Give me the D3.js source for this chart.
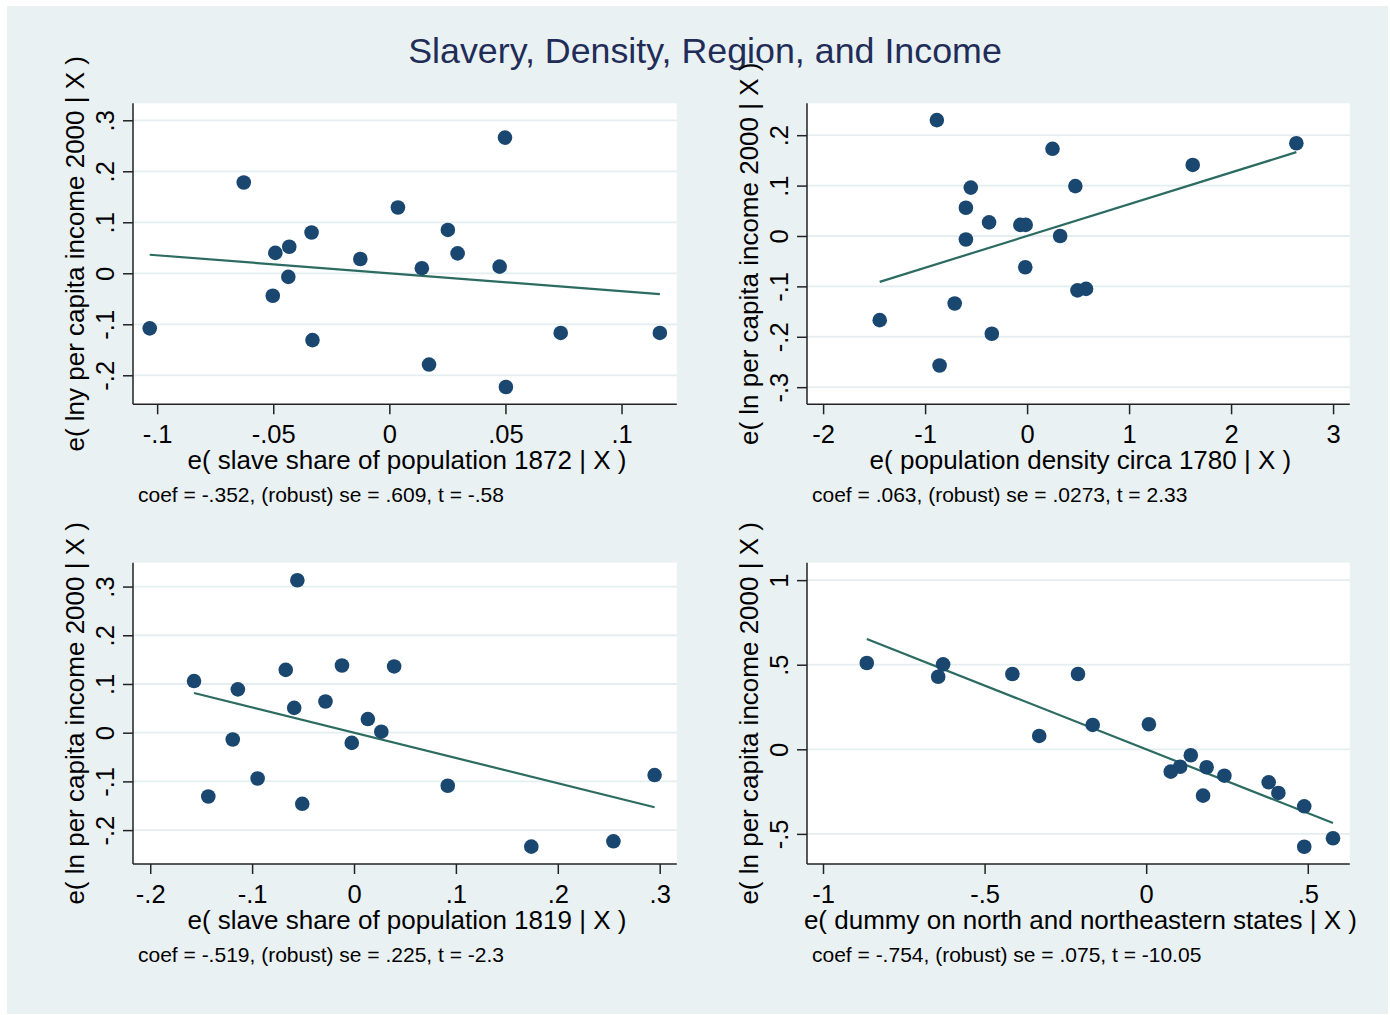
<!DOCTYPE html>
<html>
<head>
<meta charset="utf-8">
<script src="https://cdn.jsdelivr.net/npm/d3@7"></script>
<style>
  html, body { margin: 0; padding: 0; background: #ffffff; }
  svg { display: block; }
  text { font-family: "Liberation Sans", Arial, Helvetica, sans-serif; }
</style>
</head>
<body>
<svg id="chart" width="1390" height="1015"></svg>
<script>
// ---------- data ----------
const chartTitle = "Slavery, Density, Region, and Income";

// Panel 1: slave share 1872
const p1X = [-0.1032, -0.0627, -0.0491, -0.0431, -0.0435, -0.0502, -0.0335, -0.0331, -0.0125, 0.0037,
             0.0140, 0.0252, 0.0294, 0.0171, 0.0475, 0.0498, 0.0502, 0.0738, 0.1165];
const p1Y = [-0.108, 0.178, 0.040, 0.052, -0.007, -0.044, 0.080, -0.131, 0.028, 0.129,
             0.010, 0.085, 0.039, -0.179, 0.013, 0.266, -0.223, -0.117, -0.117];
const p1XTicks = [-0.1, -0.05, 0, 0.05, 0.1];
const p1XTickLabels = ["-.1", "-.05", "0", ".05", ".1"];
const p1YTicks = [-0.2, -0.1, 0, 0.1, 0.2, 0.3];
const p1YTickLabels = ["-.2", "-.1", "0", ".1", ".2", ".3"];
const p1XTitle = "e( slave share of population 1872 | X )";
const p1YTitle = "e( lny per capita income 2000 | X )";
const p1Note = "coef = -.352, (robust) se = .609, t = -.58";
const p1Coef = -0.352, p1Intercept = 0;
const p1XDomain = [-0.1104, 0.1238], p1YDomain = [-0.2569, 0.3333];

// Panel 2: population density 1780
const p2X = [-0.885, 0.249, 1.624, 2.640, -0.552, -0.600, 0.473, -0.373, -0.066, -0.014,
             -0.600, 0.324, -0.018, 0.494, 0.578, -0.710, -1.445, -0.346, -0.858];
const p2Y = [0.230, 0.173, 0.141, 0.184, 0.096, 0.056, 0.099, 0.027, 0.022, 0.022,
             -0.007, 0.000, -0.062, -0.108, -0.105, -0.134, -0.167, -0.194, -0.257];
const p2XTicks = [-2, -1, 0, 1, 2, 3];
const p2XTickLabels = ["-2", "-1", "0", "1", "2", "3"];
const p2YTicks = [-0.3, -0.2, -0.1, 0, 0.1, 0.2];
const p2YTickLabels = ["-.3", "-.2", "-.1", "0", ".1", ".2"];
const p2XTitle = "e( population density circa 1780 | X )";
const p2YTitle = "e( ln per capita income 2000 | X )";
const p2Note = "coef = .063, (robust) se = .0273, t = 2.33";
const p2Coef = 0.063, p2Intercept = 0;
const p2XDomain = [-2.158, 3.164], p2YDomain = [-0.334, 0.2633];

// Panel 3: slave share 1819
const p3X = [-0.157, -0.0556, -0.067, -0.0118, 0.0394, -0.114, -0.028, -0.0587, 0.0136, 0.0268,
             -0.0022, -0.119, -0.0946, -0.143, -0.0508, 0.092, 0.174, 0.2546, 0.295];
const p3Y = [0.106, 0.313, 0.129, 0.138, 0.136, 0.089, 0.064, 0.051, 0.028, 0.002,
             -0.021, -0.014, -0.094, -0.131, -0.146, -0.109, -0.234, -0.223, -0.087];
const p3XTicks = [-0.2, -0.1, 0, 0.1, 0.2, 0.3];
const p3XTickLabels = ["-.2", "-.1", "0", ".1", ".2", ".3"];
const p3YTicks = [-0.2, -0.1, 0, 0.1, 0.2, 0.3];
const p3YTickLabels = ["-.2", "-.1", "0", ".1", ".2", ".3"];
const p3XTitle = "e( slave share of population 1819 | X )";
const p3YTitle = "e( ln per capita income 2000 | X )";
const p3Note = "coef = -.519, (robust) se = .225, t = -2.3";
const p3Coef = -0.519, p3Intercept = 0;
const p3XDomain = [-0.2169, 0.3168], p3YDomain = [-0.2696, 0.349];

// Panel 4: north / northeast dummy
const p4X = [-0.8645, -0.6436, -0.6284, -0.414, -0.211, -0.331, -0.1655, 0.0084, 0.138, 0.076,
             0.105, 0.187, 0.176, 0.242, 0.379, 0.409, 0.489, 0.489, 0.578];
const p4Y = [0.510, 0.429, 0.502, 0.445, 0.445, 0.079, 0.144, 0.148, -0.035, -0.132,
             -0.103, -0.106, -0.274, -0.156, -0.195, -0.258, -0.337, -0.576, -0.526];
const p4XTicks = [-1, -0.5, 0, 0.5];
const p4XTickLabels = ["-1", "-.5", "0", ".5"];
const p4YTicks = [-0.5, 0, 0.5, 1];
const p4YTickLabels = ["-.5", "0", ".5", "1"];
const p4XTitle = "e( dummy on north and northeastern states | X )";
const p4YTitle = "e( ln per capita income 2000 | X )";
const p4Note = "coef = -.754, (robust) se = .075, t = -10.05";
const p4Coef = -0.754, p4Intercept = 0;
const p4XDomain = [-1.0495, 0.630], p4YDomain = [-0.678, 1.103];

// ---------- styles / layout ----------
const BG = "#eaf1f3";
const GRID = "#e4edf0";
const MARKER = "#1a476f";
const FIT = "#2c6b61";
const TITLE_COLOR = "#1f2d58";

const panels = [
  {x: p1X, y: p1Y, xt: p1XTicks, xtl: p1XTickLabels, yt: p1YTicks, ytl: p1YTickLabels,
   xTitle: p1XTitle, yTitle: p1YTitle, note: p1Note, coef: p1Coef, icpt: p1Intercept,
   xd: p1XDomain, yd: p1YDomain, box: {l: 133, r: 676.8, t: 103.3, b: 404.3}},
  {x: p2X, y: p2Y, xt: p2XTicks, xtl: p2XTickLabels, yt: p2YTicks, ytl: p2YTickLabels,
   xTitle: p2XTitle, yTitle: p2YTitle, note: p2Note, coef: p2Coef, icpt: p2Intercept,
   xd: p2XDomain, yd: p2YDomain, box: {l: 807, r: 1349.8, t: 103.3, b: 404.3}},
  {x: p3X, y: p3Y, xt: p3XTicks, xtl: p3XTickLabels, yt: p3YTicks, ytl: p3YTickLabels,
   xTitle: p3XTitle, yTitle: p3YTitle, note: p3Note, coef: p3Coef, icpt: p3Intercept,
   xd: p3XDomain, yd: p3YDomain, box: {l: 133, r: 676.8, t: 562.7, b: 864}},
  {x: p4X, y: p4Y, xt: p4XTicks, xtl: p4XTickLabels, yt: p4YTicks, ytl: p4YTickLabels,
   xTitle: p4XTitle, yTitle: p4YTitle, note: p4Note, coef: p4Coef, icpt: p4Intercept,
   xd: p4XDomain, yd: p4YDomain, box: {l: 807, r: 1349.8, t: 562.7, b: 864}}
];

const svg = d3.select("#chart");

// outer graph region
svg.append("rect").attr("x", 7).attr("y", 6).attr("width", 1381).attr("height", 1008).attr("fill", BG);

// main title
svg.append("text")
  .attr("x", 705).attr("y", 63)
  .attr("text-anchor", "middle")
  .attr("font-size", 35.8)
  .attr("fill", TITLE_COLOR)
  .text(chartTitle);

panels.forEach(p => {
  const B = p.box;
  const xs = d3.scaleLinear().domain(p.xd).range([B.l, B.r]);
  const ys = d3.scaleLinear().domain(p.yd).range([B.b, B.t]);
  const g = svg.append("g");

  // plot region
  g.append("rect").attr("x", B.l).attr("y", B.t).attr("width", B.r - B.l).attr("height", B.b - B.t)
    .attr("fill", "#ffffff");

  // gridlines
  g.append("g").selectAll("line").data(p.yt).join("line")
    .attr("x1", B.l).attr("x2", B.r)
    .attr("y1", d => ys(d)).attr("y2", d => ys(d))
    .attr("stroke", GRID).attr("stroke-width", 1.8);

  // y axis
  const yAxis = d3.axisLeft(ys).tickValues(p.yt).tickSize(10).tickFormat((d, i) => p.ytl[i]);
  const ya = g.append("g").attr("transform", `translate(${B.l},0)`).call(yAxis);
  ya.select(".domain").attr("d", `M0,${B.t}V${B.b}`).attr("stroke", "#222").attr("stroke-width", 1.5);
  ya.selectAll(".tick line").attr("stroke", "#222").attr("stroke-width", 1.5);
  ya.selectAll(".tick text")
    .attr("x", null).attr("dy", null)
    .attr("transform", "translate(-19,0) rotate(-90)")
    .attr("text-anchor", "middle")
    .attr("font-size", 25.5)
    .attr("font-family", "Liberation Sans, Arial, sans-serif")
    .attr("fill", "#000");

  // x axis
  const xAxis = d3.axisBottom(xs).tickValues(p.xt).tickSize(10).tickFormat((d, i) => p.xtl[i]);
  const xa = g.append("g").attr("transform", `translate(0,${B.b})`).call(xAxis);
  xa.select(".domain").attr("d", `M${B.l},0H${B.r}`).attr("stroke", "#222").attr("stroke-width", 1.5);
  xa.selectAll(".tick line").attr("stroke", "#222").attr("stroke-width", 1.5);
  xa.selectAll(".tick text")
    .attr("y", 39).attr("dy", null)
    .attr("font-size", 25.5)
    .attr("font-family", "Liberation Sans, Arial, sans-serif")
    .attr("fill", "#000");

  // axis titles
  g.append("text")
    .attr("x", (B.l + B.r) / 2 + 2).attr("y", B.b + 65)
    .attr("text-anchor", "middle").attr("font-size", 26).attr("fill", "#000")
    .text(p.xTitle);
  g.append("text")
    .attr("transform", `translate(${B.l - 49.5},${(B.t + B.b) / 2}) rotate(-90)`)
    .attr("text-anchor", "middle").attr("font-size", 26).attr("fill", "#000")
    .text(p.yTitle);

  // note
  g.append("text")
    .attr("x", B.l + 5).attr("y", B.b + 98)
    .attr("font-size", 21).attr("fill", "#000")
    .text(p.note);

  // fitted line
  const xmin = d3.min(p.x), xmax = d3.max(p.x);
  const fitPts = [xmin, xmax].map(v => [v, p.icpt + p.coef * v]);
  g.append("path")
    .attr("d", d3.line().x(d => xs(d[0])).y(d => ys(d[1]))(fitPts))
    .attr("fill", "none").attr("stroke", FIT).attr("stroke-width", 2.2);

  // markers
  g.append("g").selectAll("circle").data(p.x.map((v, i) => [v, p.y[i]])).join("circle")
    .attr("cx", d => xs(d[0])).attr("cy", d => ys(d[1])).attr("r", 7.3)
    .attr("fill", MARKER);
});
</script>
</body>
</html>
